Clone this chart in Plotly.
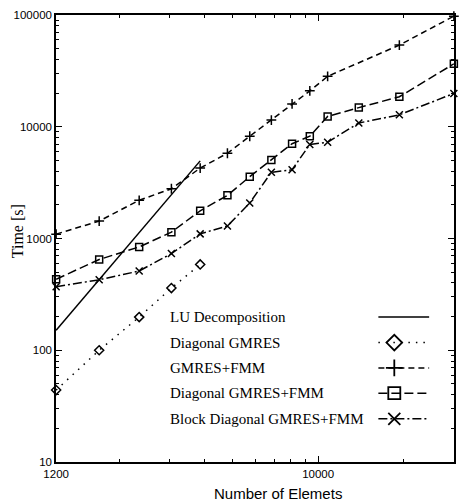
import math
import plotly.graph_objects as go

# ---- data ----
lu_x = [1200, 3850]
lu_y = [151, 4950]

diag_gmres_x = [1200, 1700, 2350, 3050, 3850]
diag_gmres_y = [44, 100, 198, 360, 586]

gmres_fmm_x = [1200, 1700, 2350, 3050, 3850, 4800, 5750, 6850, 8100, 9350, 10800, 19300, 30000]
gmres_fmm_y = [1094, 1432, 2198, 2786, 4266, 5794, 8225, 11482, 16000, 20950, 28250, 53800, 97600]

fmm_x = [1200, 1700, 2350, 3050, 3850, 4800, 5750, 6850, 8100, 9350, 10800, 13900, 19300, 30000]
diag_gmres_fmm_y = [432, 649, 840, 1140, 1770, 2432, 3575, 5050, 7050, 8230, 12360, 14830, 18550, 36560]
block_diag_y = [370, 427, 512, 733, 1100, 1295, 2080, 3910, 4120, 6950, 7280, 10800, 12790, 19870]

series_names = ["LU Decomposition", "Diagonal GMRES", "GMRES+FMM",
                "Diagonal GMRES+FMM", "Block Diagonal GMRES+FMM"]

x_tick_vals = [1200, 10000, 30000]
x_tick_text = ["1200", "10000", "30000"]
x_minor_vals = [2000, 3000, 4000, 5000, 6000, 7000, 8000, 9000, 20000]
y_tick_vals = [10, 100, 1000, 10000, 100000]
y_tick_text = ["10", "100", "1000", "10000", "100000"]

# ---- styles ----
BLACK = "black"
styles = [
    dict(dash="solid", symbol=None, size=0),
    dict(dash="1.5px,6px", symbol="diamond-open", size=7),
    dict(dash="6px,4px", symbol="cross-thin-open", size=7),
    dict(dash="9px,4px", symbol="square-open", size=7),
    dict(dash="9px,3px,2px,3px", symbol="x-thin-open", size=7),
]
data_sets = [(lu_x, lu_y), (diag_gmres_x, diag_gmres_y), (gmres_fmm_x, gmres_fmm_y),
             (fmm_x, diag_gmres_fmm_y), (fmm_x, block_diag_y)]

fig = go.Figure()
for name, (xs, ys), st in zip(series_names, data_sets, styles):
    mode = "lines" if st["symbol"] is None else "lines+markers"
    marker = None if st["symbol"] is None else dict(
        symbol=st["symbol"], size=st["size"], color=BLACK,
        line=dict(color=BLACK, width=1.5))
    fig.add_trace(go.Scatter(
        x=xs, y=ys, name=name, mode=mode,
        line=dict(color=BLACK, width=1.5, dash=st["dash"]),
        marker=marker, showlegend=False, cliponaxis=False))

# ---- hand-drawn legend (text left, sample right), on an overlay axis ----
row_y = [0.3245, 0.2671, 0.2104, 0.1539, 0.0965]
line_x0, line_x1, mark_x = 0.81, 0.9375, 0.85
text_x = 0.2825
for name, st, yy in zip(series_names, styles, row_y):
    fig.add_trace(go.Scatter(
        x=[line_x0, line_x1], y=[yy, yy], xaxis="x2", yaxis="y2", mode="lines",
        line=dict(color=BLACK, width=1.5, dash=st["dash"]),
        showlegend=False, hoverinfo="skip", cliponaxis=False))
    if st["symbol"] is not None:
        fig.add_trace(go.Scatter(
            x=[mark_x], y=[yy], xaxis="x2", yaxis="y2", mode="markers",
            marker=dict(symbol=st["symbol"], size=st["size"] + 5, color=BLACK,
                        line=dict(color=BLACK, width=1.8)),
            showlegend=False, hoverinfo="skip", cliponaxis=False))
    fig.add_annotation(x=text_x, y=yy, xref="paper", yref="paper", text=name,
                       showarrow=False, xanchor="left", yanchor="middle",
                       font=dict(family="Liberation Serif", size=15, color=BLACK))

# axis titles
fig.add_annotation(x=0.5575, y=-0.0706, xref="paper", yref="paper",
                   text="Number of Elemets", showarrow=False,
                   xanchor="center", yanchor="middle",
                   font=dict(family="Liberation Sans", size=15, color=BLACK))
fig.add_annotation(x=-0.0975, y=0.5166, xref="paper", yref="paper",
                   text="Time [s]", showarrow=False, textangle=-90,
                   xanchor="center", yanchor="middle",
                   font=dict(family="Liberation Serif", size=16, color=BLACK))

axis_common = dict(showline=True, linecolor=BLACK, linewidth=1.5, mirror="ticks",
                   ticks="inside", ticklen=6, tickwidth=1, tickcolor=BLACK,
                   showgrid=False, zeroline=False,
                   tickfont=dict(family="Liberation Sans", size=11.5, color=BLACK))

fig.update_layout(
    width=465, height=504,
    margin=dict(l=56, r=9, t=9, b=42),
    paper_bgcolor="white", plot_bgcolor="white",
    showlegend=False,
    xaxis=dict(type="log", range=[math.log10(1200) - 0.0005, math.log10(30000) + 0.0005],
               tickmode="array", tickvals=x_tick_vals, ticktext=x_tick_text,
               minor=dict(tickmode="array", tickvals=x_minor_vals, ticks="inside",
                          ticklen=3, tickcolor=BLACK, showgrid=False),
               **axis_common),
    yaxis=dict(type="log", range=[1, 5],
               tickmode="array", tickvals=y_tick_vals, ticktext=y_tick_text,
               minor=dict(dtick="D1", ticks="inside", ticklen=3,
                          tickcolor=BLACK, showgrid=False),
               **axis_common),
    xaxis2=dict(overlaying="x", range=[0, 1], visible=False, fixedrange=True),
    yaxis2=dict(overlaying="y", range=[0, 1], visible=False, fixedrange=True),
)

fig.write_html("out.html", config={"displayModeBar": False},
               post_script="document.body.style.margin='0px';document.body.style.overflow='hidden';")
